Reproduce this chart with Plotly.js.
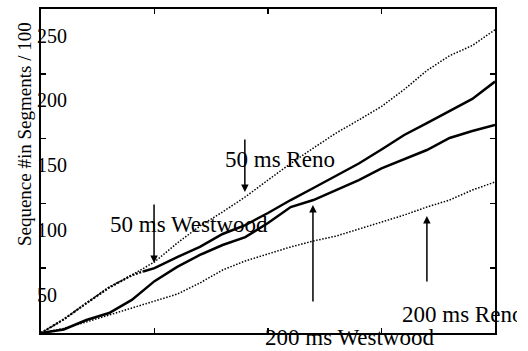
<!DOCTYPE html>
<html>
<head>
<meta charset="utf-8">
<script src="https://cdn.plot.ly/plotly-3.0.1.min.js"></script>
<style>
  html, body { margin: 0; padding: 0; background: #fff; }
  #chart { width: 528px; height: 351px; }
</style>
</head>
<body>
<div id="chart"></div>
<script>
// Time axis (arbitrary units, no labels drawn)
const t = [0, 5, 10, 15, 20, 25, 30, 35, 40, 45, 50, 55, 60, 65, 70, 75, 80, 85, 90, 95, 100];
const tWest50 = [0, 5, 10, 15, 20, 22.5, 25, 30, 35, 40, 45, 50, 55, 60, 65, 70, 75, 80, 85, 90, 95, 100];

// Sequence number (segments / 100) for each connection
const reno50 = [0, 10.5, 23, 35.5, 44.7, 54.8, 69.4, 82.5, 93.4, 105, 118, 130.8, 142.7, 154.3, 164.4, 174.8, 187.9, 202.5, 214, 221.8, 234];
const westwood50 = [0, 10.5, 23, 35, 44.5, 47.5, 50, 58.6, 66.4, 76.4, 83.3, 92.6, 102.6, 111.9, 121.1, 130.8, 141.6, 152.8, 162, 171.3, 180.6, 194];
const westwood200 = [0, 2.7, 10, 15.4, 25.5, 40, 51, 60.2, 67.9, 74, 84.9, 97.2, 102.6, 110.3, 118, 127, 134.3, 141.2, 150.5, 155.9, 160.5];
const reno200 = [0, 3.5, 8.5, 13.9, 19.3, 24.7, 30, 38.6, 48.6, 55.6, 61, 66.4, 71, 74.8, 80.2, 85.6, 91, 97.2, 102.6, 110.3, 116.5];

// Index where the 50 ms Westwood trace leaves the 50 ms Reno trace
const west50Split = 5;

// Y tick marks and the labels printed beside them
const yTickVals = [50, 100, 150, 200, 250];
const yTickText = ['50', '100', '150', '200', '250'];
const yLabelShift = 20.5;   // labels sit a little below their tick marks

// Callout labels and arrows
const calloutText = ['50 ms Reno', '50 ms Westwood', '200 ms Westwood', '200 ms Reno'];
const calloutX = [40.1, 14.8, 48.9, 79.1];
const calloutY = [133.5, 84.1, 0, 13.9];
const calloutShift = [0, 0, -4, 0];
const arrowTipX = [44.9, 24.9, 59.9, 85.0];
const arrowTipY = [108.8, 54.0, 98.8, 90.3];
const arrowTail = [-54, -60, 98, 67];

const serif = 'Liberation Serif, Times New Roman, serif';
const dotted = { color: '#000', width: 1.5, dash: '1.5px,1.6px' };

const traces = [
  { x: t, y: reno50, mode: 'lines', line: dotted },
  // shared stretch with the 50 ms Reno trace reads as a heavier dotted band
  { x: tWest50.slice(0, west50Split + 1), y: westwood50.slice(0, west50Split + 1), mode: 'lines',
    line: { color: '#000', width: 2.2, dash: '2px,1.5px' } },
  { x: tWest50.slice(west50Split), y: westwood50.slice(west50Split), mode: 'lines', line: { color: '#000', width: 2.5 } },
  { x: t, y: westwood200, mode: 'lines', line: { color: '#000', width: 2.5 } },
  { x: t, y: reno200, mode: 'lines', line: dotted }
];

const annotations = [];

// y tick labels
yTickVals.forEach((v, i) => {
  annotations.push({
    xref: 'paper', yref: 'y', x: -0.013, y: v - yLabelShift,
    xanchor: 'left', yanchor: 'middle', showarrow: false,
    text: yTickText[i], font: { family: serif, size: 20, color: '#000' }
  });
});

// y axis title
annotations.push({
  xref: 'paper', yref: 'paper', x: -0.0374, y: 0.614,
  xanchor: 'center', yanchor: 'middle', showarrow: false, textangle: -90,
  text: 'Sequence #in Segments / 100', font: { family: serif, size: 19, color: '#000' }
});

// callout texts
calloutText.forEach((s, i) => {
  const a = {
    xref: 'x', yref: 'y', x: calloutX[i], y: calloutY[i], yshift: calloutShift[i],
    xanchor: 'left', yanchor: 'middle', showarrow: false,
    text: s, font: { family: serif, size: 23, color: '#000' }
  };
  if (i === 3) { a.width = 115; a.align = 'left'; }
  annotations.push(a);
});

// arrows
arrowTipX.forEach((x, i) => {
  annotations.push({
    xref: 'x', yref: 'y', x: x, y: arrowTipY[i], ax: 0, ay: arrowTail[i],
    text: '', showarrow: true, arrowhead: 2, arrowsize: 1, arrowwidth: 1.5, arrowcolor: '#000'
  });
});

const axisStyle = {
  showgrid: false, zeroline: false, showline: true, linecolor: '#000', linewidth: 2,
  mirror: 'ticks', ticks: 'inside', ticklen: 5, tickwidth: 1.5, tickcolor: '#000',
  showticklabels: false, fixedrange: true
};

const layout = {
  width: 528, height: 351,
  margin: { l: 41, r: 33, t: 9, b: 18, pad: 0 },
  paper_bgcolor: '#fff', plot_bgcolor: '#fff',
  showlegend: false,
  xaxis: Object.assign({}, axisStyle, { range: [0, 100], tickvals: [25, 50, 75] }),
  yaxis: Object.assign({}, axisStyle, { range: [0, 250], tickvals: [50, 100, 150, 200] }),
  annotations: annotations
};

Plotly.newPlot('chart', traces, layout, { staticPlot: true, displayModeBar: false });
</script>
</body>
</html>
